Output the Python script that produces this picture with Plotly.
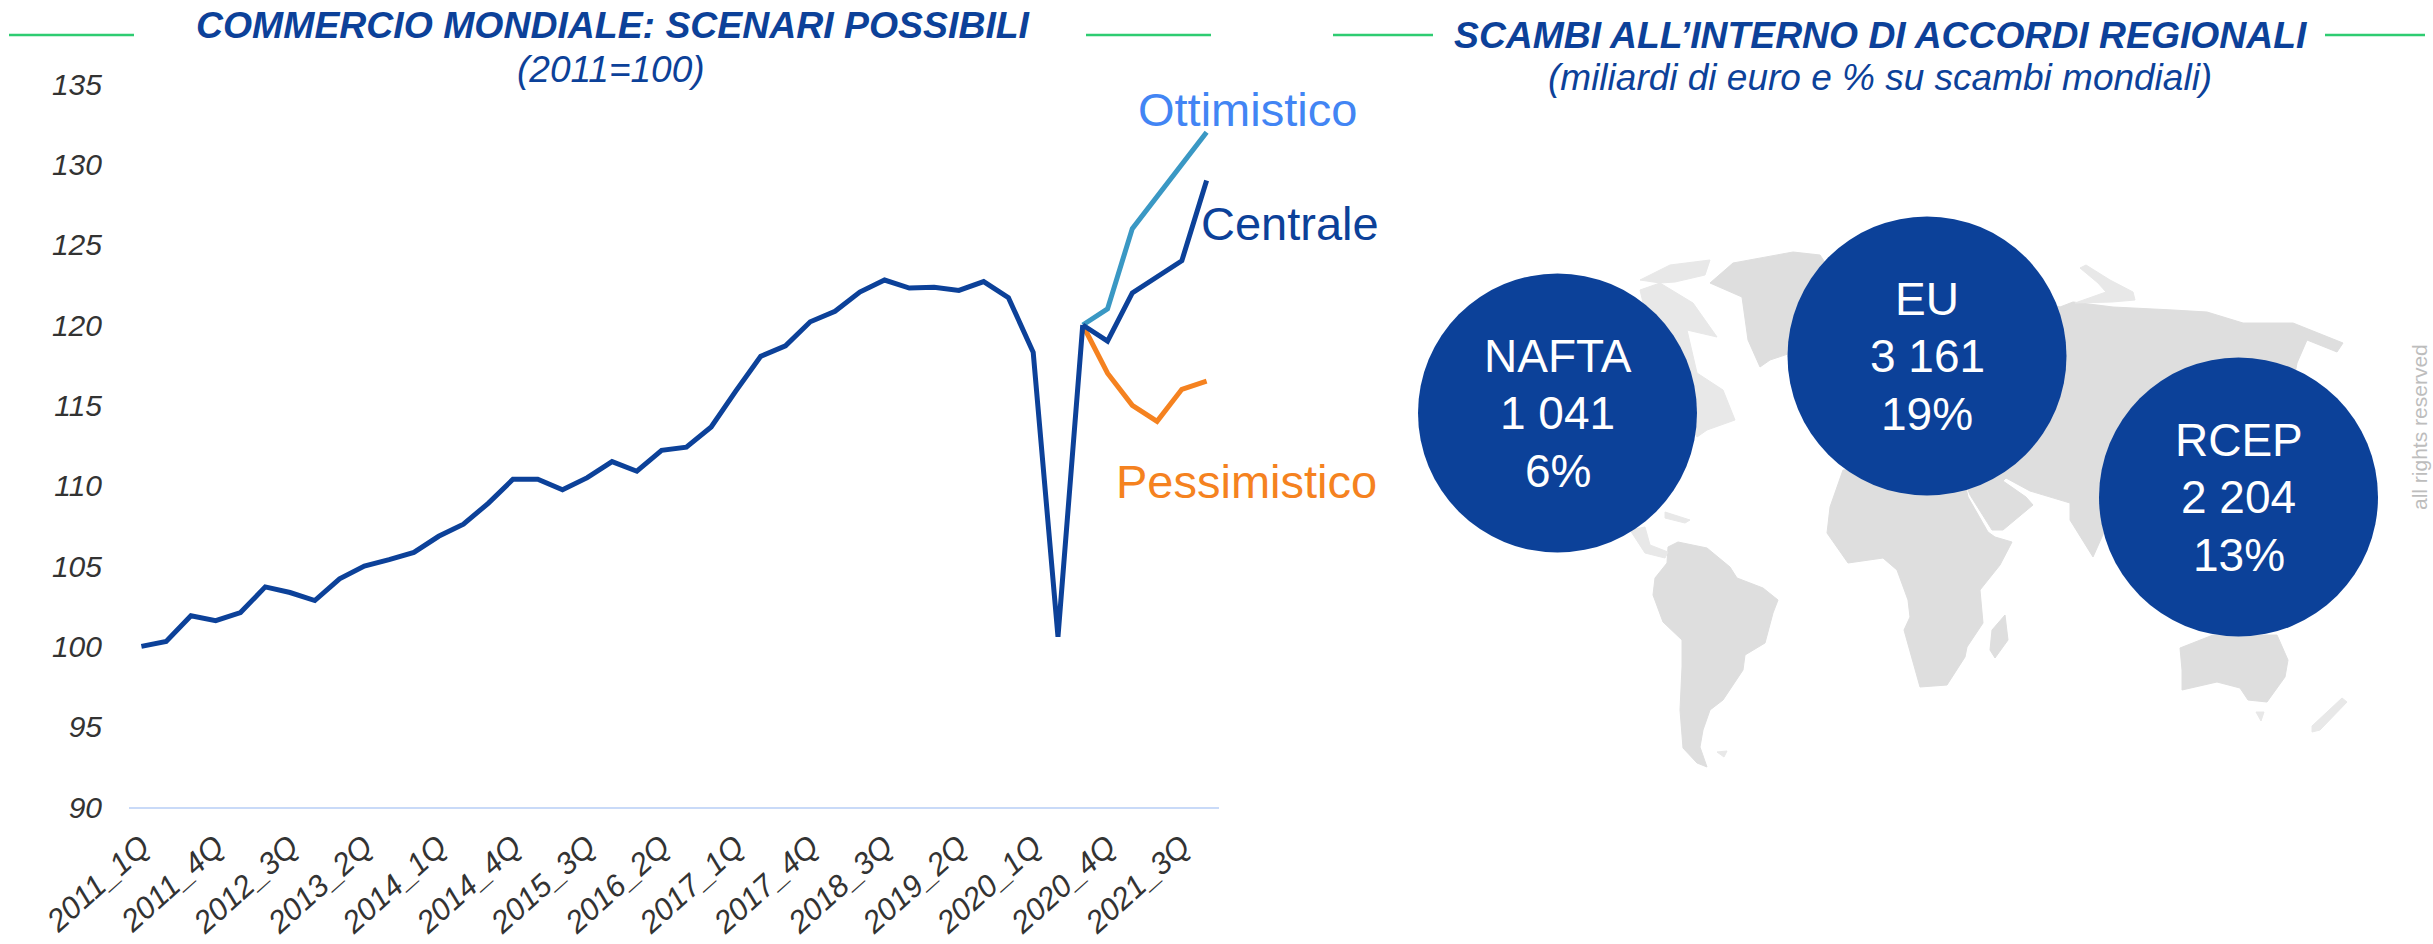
import plotly.graph_objects as go

FONT = "Liberation Sans"
BLUE = "#0C4199"
GREY = "#DEDEDE"
PALE = "#E8E8E8"

quarters = [f"{y}_{q}Q" for y in range(2011, 2022) for q in range(1, 5)]
tick_labels = quarters[::3]
y_ticks = [90, 95, 100, 105, 110, 115, 120, 125, 130, 135]

history = [100.0, 100.3, 101.9, 101.6, 102.1, 103.7, 103.35, 102.85, 104.2, 105.0,
           105.4, 105.85, 106.85, 107.6, 108.9, 110.4, 110.4, 109.75, 110.5, 111.5,
           110.9, 112.2, 112.4, 113.65, 115.9, 118.05, 118.7, 120.2, 120.85, 122.05,
           122.8, 122.3, 122.35, 122.15, 122.7, 121.7, 118.3, 100.6, 120.0]
central = [120.0, 119.0, 122.0, 123.0, 124.0, 129.0]
optimistic = [120.0, 121.0, 126.0, 128.0, 130.0, 132.0]
pessimistic = [120.0, 117.0, 115.0, 114.0, 116.0, 116.5]

bloc_names = ["NAFTA", "EU", "RCEP"]
bloc_values = ["1 041", "3 161", "2 204"]
bloc_shares = ["6%", "19%", "13%"]
bloc_map_x = [1557.5, 1927, 2238.5]
bloc_map_y = [413, 356, 497]

# Map outlines, traced in map units
south_america = [(1678,542),(1707,548),(1730,567),(1737,578),(1763,588),(1778,600),(1773,613),(1765,643),(1745,655),(1743,670),(1723,700),(1710,710),(1703,730),(1700,747),(1707,767),(1697,763),(1683,748),(1680,710),(1682,667),(1682,640),(1663,622),(1653,595),(1655,578),(1667,563),(1668,547)]
africa = [(1843,470),(1830,507),(1827,533),(1848,563),(1883,558),(1897,570),(1908,600),(1910,617),(1904,630),(1920,687),(1947,685),(1965,657),(1967,647),(1983,623),(1980,590),(2000,565),(2012,542),(1995,537),(1988,532),(1968,497),(1960,460)]
eurasia = [(2040,300),(2060,307),(2073,302),(2113,307),(2173,310),(2207,312),(2243,323),(2293,323),(2343,343),(2337,352),(2307,340),(2297,363),(2290,400),(2200,500),(2105,530),(2093,557),(2070,520),(2070,503),(2030,491),(2006,478),(2003,481),(2026,497),(2033,505),(2003,530),(1992,530),(1970,495),(1960,470),(1950,400)]
novaya_zemlya = [(2080,268),(2086,265),(2110,280),(2133,292),(2135,300),(2112,302),(2075,303),(2106,292),(2098,283)]
madagascar = [(2005,615),(2008,640),(1995,658),(1990,650),(1992,630)]
australia = [(2180,648),(2213,635),(2277,635),(2288,660),(2285,677),(2267,702),(2248,700),(2240,688),(2217,682),(2182,690),(2182,670)]
tasmania = [(2256,712),(2264,712),(2261,721)]
new_zealand = [(2342,698),(2347,702),(2320,730),(2312,732),(2312,726)]
greenland = [(1710,283),(1733,263),(1793,252),(1820,255),(1830,270),(1800,350),(1770,360),(1760,367),(1748,340),(1742,297)]
north_america = [(1640,290),(1660,283),(1693,303),(1717,337),(1687,330),(1697,373),(1723,390),(1735,420),(1707,430),(1697,437),(1660,373)]
arctic_islands = [(1640,280),(1670,265),(1710,260),(1705,275),(1675,282),(1660,283)]
central_america = [(1630,530),(1645,527),(1650,545),(1668,552),(1665,558),(1645,553)]
caribbean = [(1665,512),(1690,520),(1685,523),(1665,518)]
falklands = [(1717,752),(1727,751),(1724,757)]
land = [south_america, africa, eurasia, madagascar, australia, greenland]
pale_land = [arctic_islands, north_america, novaya_zemlya, tasmania, new_zealand,
             central_america, caribbean, falklands]

fig = go.Figure()


def add_land(shape, colour):
    fig.add_trace(go.Scatter(x=[p[0] for p in shape] + [shape[0][0]],
                             y=[p[1] for p in shape] + [shape[0][1]],
                             xaxis="x2", yaxis="y2", mode="lines", fill="toself",
                             fillcolor=colour, line=dict(color=colour, width=1),
                             hoverinfo="skip", showlegend=False))


for shape in land:
    add_land(shape, GREY)
for shape in pale_land:
    add_land(shape, PALE)

fig.add_trace(go.Scatter(x=bloc_map_x, y=bloc_map_y, xaxis="x2", yaxis="y2", mode="markers",
                         marker=dict(size=279, color=BLUE, line=dict(width=0)),
                         hoverinfo="skip", showlegend=False))

scenario_x = quarters[38:]
fig.add_trace(go.Scatter(x=scenario_x, y=optimistic, mode="lines", name="Ottimistico",
                         line=dict(color="#3A98C4", width=5), showlegend=False))
fig.add_trace(go.Scatter(x=scenario_x, y=pessimistic, mode="lines", name="Pessimistico",
                         line=dict(color="#F58220", width=5), showlegend=False))
fig.add_trace(go.Scatter(x=scenario_x, y=central, mode="lines", name="Centrale",
                         line=dict(color=BLUE, width=5), showlegend=False))
fig.add_trace(go.Scatter(x=quarters[:39], y=history, mode="lines", name="Storico",
                         line=dict(color=BLUE, width=5), showlegend=False))


def note(text, x, y, size, color, weight="normal", style="normal", angle=0):
    return dict(text=text, x=x, y=y, xref="x2", yref="y2", showarrow=False,
                xanchor="center", yanchor="middle", textangle=angle,
                font=dict(family=FONT, size=size, color=color, weight=weight, style=style))


notes = [
    note("COMMERCIO MONDIALE: SCENARI POSSIBILI", 613, 25, 37.4, BLUE, "bold", "italic"),
    note("(2011=100)", 611, 69, 37, BLUE, style="italic"),
    note("SCAMBI ALL’INTERNO DI ACCORDI REGIONALI", 1880, 35, 37.3, BLUE, "bold", "italic"),
    note("(miliardi di euro e % su scambi mondiali)", 1880, 77, 37, BLUE, style="italic"),
    note("Ottimistico", 1247, 109, 47, "#4285F4"),
    note("Centrale", 1290, 223, 47, BLUE),
    note("Pessimistico", 1246, 481, 47, "#F58220"),
    note("all rights reserved", 2419, 427, 21, "#BDBDBD", angle=-90),
]
for bx, by, name, value, share in zip(bloc_map_x, bloc_map_y, bloc_names, bloc_values, bloc_shares):
    notes.append(note(name, bx, by - 57, 46, "white"))
    notes.append(note(value, bx, by, 46, "white"))
    notes.append(note(share, bx, by + 58, 46, "white"))

rules = []
for x0, x1, y in [(9, 134, 35), (1086, 1211, 35), (1333, 1433, 35), (2325, 2425, 35)]:
    rules.append(dict(type="line", xref="x2", yref="y2", x0=x0, x1=x1, y0=y, y1=y,
                      line=dict(color="#2ECC71", width=2.5)))

W, H = 2433, 944
fig.update_layout(
    template="none",
    width=W, height=H, autosize=False,
    margin=dict(l=0, r=0, t=0, b=0, pad=0),
    paper_bgcolor="white", plot_bgcolor="rgba(0,0,0,0)",
    showlegend=False, annotations=notes, shapes=rules,
    xaxis=dict(domain=[129 / W, 1219 / W], type="category", categoryorder="array",
               categoryarray=quarters, range=[-0.5, 43.5], tickmode="array",
               tickvals=tick_labels, ticktext=tick_labels, tickangle=-42,
               showgrid=False, zeroline=False, showline=True, linecolor="#C9DAF8",
               linewidth=2, ticks="", anchor="y", automargin=False, ticklabelstandoff=7,
               tickfont=dict(family=FONT, size=31, color="#333333", style="italic")),
    yaxis=dict(domain=[1 - 807 / H, 1 - 84 / H], range=[90, 135], tickmode="array",
               tickvals=y_ticks, showgrid=False, zeroline=False, showline=False, ticks="",
               ticklabelstandoff=26, anchor="x", automargin=False,
               tickfont=dict(family=FONT, size=30, color="#333333", style="italic")),
    xaxis2=dict(domain=[0, 1], range=[0, W], visible=False, anchor="y2", fixedrange=True, automargin=False),
    yaxis2=dict(domain=[0, 1], range=[H, 0], visible=False, anchor="x2", fixedrange=True, automargin=False),
)

fig.write_html("out.html", config={"displayModeBar": False},
               post_script="document.body.style.margin='0';document.body.style.overflow='hidden';")
